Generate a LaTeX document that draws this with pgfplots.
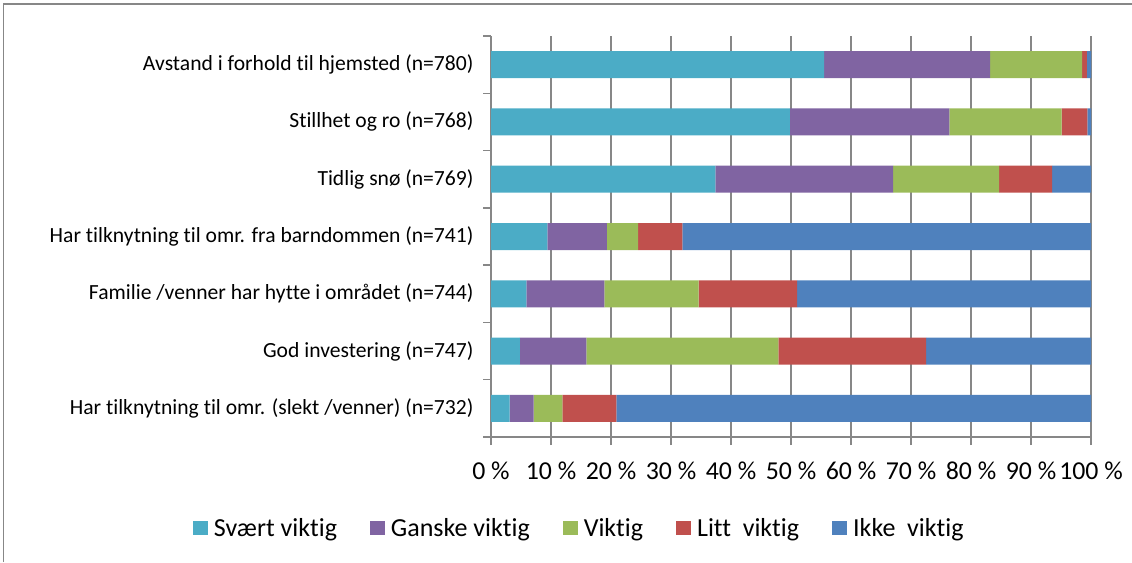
\documentclass[border=0pt]{standalone}
\usepackage{fontspec}
\setmainfont{Carlito}[Ligatures={NoCommon}]
\usepackage{pgfplots}
\pgfplotsset{compat=1.18}
\usepackage{pgfplotstable}
\definecolor{cSv}{HTML}{4BACC6}
\definecolor{cGa}{HTML}{8064A2}
\definecolor{cVi}{HTML}{9BBB59}
\definecolor{cLi}{HTML}{C0504D}
\definecolor{cIk}{HTML}{4F81BD}
\definecolor{gridgray}{HTML}{878787}
\pgfplotstableread{
y sv ga vi li ik
6 55.5 27.7 15.3 0.8 0.7
5 49.8 26.6 18.7 4.3 0.6
4 37.4 29.6 17.7 8.8 6.5
3 9.4 9.9 5.2 7.4 68.1
2 5.9 13.0 15.7 16.4 49.0
1 4.8 11.1 32.0 24.6 27.5
0 3.1 4.0 4.8 9.0 79.1
}\data
\begin{document}
\begin{tikzpicture}
\useasboundingbox (0,0) rectangle (1132pt,562pt);
\draw[gridgray, line width=1.2pt] (3.5pt,0) -- (3.5pt,558pt) -- (1132pt,558pt);
\begin{axis}[
  at={(491pt,125pt)}, anchor=south west,
  scale only axis, width=600pt, height=401pt,
  xbar stacked, bar width=27pt,
  xmin=0, xmax=100, ymin=-0.5, ymax=6.5,
  axis lines*=left,
  axis line style={gridgray, line width=1.5pt},
  xmajorgrids, grid style={gridgray, line width=1.5pt},
  tick align=outside, major tick length=8pt,
  tick style={gridgray, line width=1.5pt},
  xtick={0,10,...,100},
  xticklabels={0 \%,10 \%,20 \%,30 \%,40 \%,50 \%,60 \%,70 \%,80 \%,90 \%,100 \%},
  xticklabel style={font=\fontsize{25.8}{28}\selectfont, yshift=-13pt},
  ytick={-0.5,0.5,1.5,2.5,3.5,4.5,5.5,6.5},
  yticklabels={},
  extra y ticks={0,1,2,3,4,5,6},
  extra y tick labels={Har tilknytning til omr. (slekt /venner) (n=732),God investering (n=747),Familie /venner har hytte i området (n=744),Har tilknytning til omr. fra barndommen (n=741),Tidlig snø (n=769),Stillhet og ro (n=768),Avstand i forhold til hjemsted (n=780)},
  extra y tick style={major tick length=0pt, yticklabel style={font=\fontsize{21.6}{24}\selectfont, xshift=-14pt}},
  legend columns=5,
  legend style={at={(0.147,-0.227)}, anchor=center, draw=none, fill=none,
    font=\fontsize{26}{28}\selectfont,
    /tikz/every odd column/.append style={column sep=4pt},
    /tikz/every even column/.append style={column sep=31pt}},
  legend image code/.code={\fill[#1] (0pt,-7pt) rectangle (15pt,7pt);},
]
\addplot[fill=cSv, draw=none] table[x=sv, y=y] {\data};
\addplot[fill=cGa, draw=none] table[x=ga, y=y] {\data};
\addplot[fill=cVi, draw=none] table[x=vi, y=y] {\data};
\addplot[fill=cLi, draw=none] table[x=li, y=y] {\data};
\addplot[fill=cIk, draw=none] table[x=ik, y=y] {\data};
\legend{Svært viktig,Ganske viktig,Viktig,Litt~~viktig,Ikke~~viktig}
\end{axis}
\end{tikzpicture}
\end{document}
